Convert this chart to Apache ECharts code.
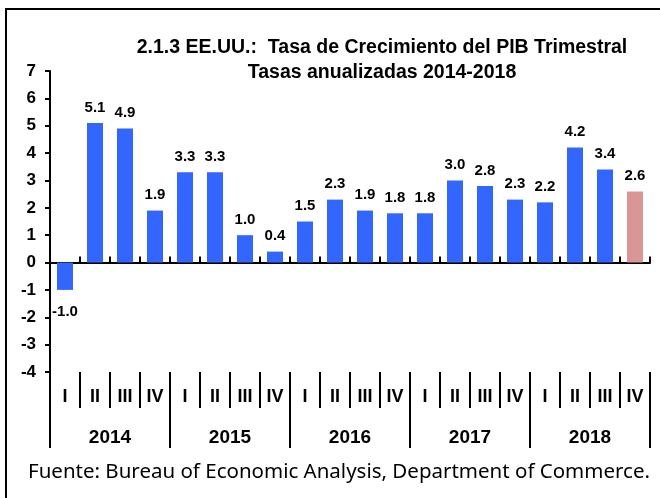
<!DOCTYPE html>
<html>
<head>
<meta charset="utf-8">
<script src="https://cdn.jsdelivr.net/npm/echarts@6/dist/echarts.min.js"></script>
<style>
    body{margin:0;padding:0;background:#fff;}
    #wrap{position:relative;width:660px;height:498px;}
    #frame{position:absolute;left:5px;top:8px;right:0;bottom:0;border-left:2.5px solid #000;border-top:2.5px solid #000;}
    #main{position:absolute;left:0;top:0;width:660px;height:498px;}
</style>
</head>
<body>
<div id="wrap">
    <div id="frame"></div>
    <div id="main"></div>
</div>
<script>
var quarters = ['I','II','III','IV','I','II','III','IV','I','II','III','IV','I','II','III','IV','I','II','III','IV'];
var years = ['2014','2015','2016','2017','2018'];
var values = [-1.0, 5.1, 4.9, 1.9, 3.3, 3.3, 1.0, 0.4, 1.5, 2.3, 1.9, 1.8, 1.8, 3.0, 2.8, 2.3, 2.2, 4.2, 3.4, 2.6];
var titleText = '2.1.3 EE.UU.:  Tasa de Crecimiento del PIB Trimestral\nTasas anualizadas 2014-2018';
var sourceText = 'Fuente: Bureau of Economic Analysis, Department of Commerce.';

var font = 'Liberation Sans, Arial, sans-serif';
var myChart = echarts.init(document.getElementById('main'));

// ultimo trimestre en otro color (dato preliminar)
var barData = values.map(function(v, i){
    return {
        value: v,
        itemStyle: {color: i === values.length - 1 ? '#D99694' : '#3366FF'},
        label: {position: v < 0 ? 'bottom' : 'top', distance: v < 0 ? 14 : 8}
    };
});

var option = {
    animation: false,
    title: [{
        text: titleText,
        left: 377,
        textAlign: 'center',
        top: 30,
        textStyle: {fontFamily: font, fontWeight: 'bold', fontSize: 19.5, lineHeight: 25, color: '#000'}
    }, {
        text: sourceText,
        left: 334,
        textAlign: 'center',
        top: 457,
        textStyle: {fontFamily: 'Noto Sans', fontWeight: 'normal', fontSize: 20.5, color: '#000'}
    }],
    grid: {left: 50, right: 10, top: 71, bottom: 126},
    xAxis: [{
        // linea del cero, marcas hacia arriba
        type: 'category',
        data: quarters,
        position: 'bottom',
        axisLine: {onZero: true, lineStyle: {color: '#000', width: 2}},
        axisTick: {show: true, inside: true, length: 6, interval: 0, lineStyle: {color: '#000', width: 2}},
        axisLabel: {show: false}
    }, {
        type: 'category',
        data: quarters,
        position: 'bottom',
        axisLine: {show: false, onZero: false},
        axisTick: {show: true, length: 36, interval: 0, lineStyle: {color: '#000', width: 2}},
        axisLabel: {interval: 0, margin: 16, fontFamily: font, fontWeight: 'bold', fontSize: 18, color: '#000'}
    }, {
        type: 'category',
        data: years,
        position: 'bottom',
        axisLine: {show: false, onZero: false},
        axisTick: {show: true, length: 76, interval: 0, lineStyle: {color: '#000', width: 2}},
        axisLabel: {interval: 0, margin: 56, fontFamily: font, fontWeight: 'bold', fontSize: 19, color: '#000'}
    }],
    yAxis: {
        type: 'value',
        min: -4,
        max: 7,
        interval: 1,
        axisLine: {show: true, lineStyle: {color: '#000', width: 2}},
        axisTick: {show: true, length: 5, lineStyle: {color: '#000', width: 2}},
        splitLine: {show: false},
        axisLabel: {margin: 14, fontFamily: font, fontWeight: 'bold', fontSize: 17, color: '#000'}
    },
    series: [{
        type: 'bar',
        xAxisIndex: 0,
        barWidth: 16,
        data: barData,
        label: {
            show: true,
            fontFamily: font,
            fontWeight: 'bold',
            fontSize: 15,
            color: '#000',
            formatter: function(p){ return p.value.toFixed(1); }
        }
    }]
};
myChart.setOption(option);
</script>
</body>
</html>
